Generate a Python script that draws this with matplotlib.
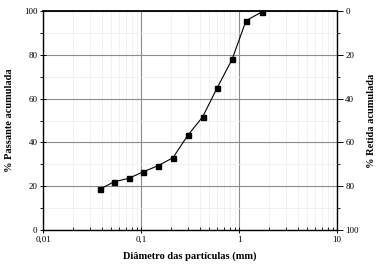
import matplotlib
matplotlib.use("Agg")
import matplotlib.pyplot as plt
from matplotlib.ticker import FixedLocator, LogLocator, NullFormatter

diam = [0.038, 0.053, 0.075, 0.106, 0.15, 0.212, 0.30, 0.425, 0.60, 0.85, 1.18, 1.70]
passante = [18.6, 22.0, 23.6, 26.6, 29.4, 33.0, 43.2, 51.6, 65.0, 77.9, 95.6, 99.5]
xticks = [0.01, 0.1, 1, 10]
xticklabels = ["0,01", "0,1", "1", "10"]
yticks = [0, 20, 40, 60, 80, 100]

plt.rcParams['font.family'] = ['Liberation Serif', 'DejaVu Serif']

fig = plt.figure(figsize=(3.8, 2.72), dpi=100)
ax = fig.add_axes([43/380, 42/272, 294/380, 219/272])

ax.set_xscale('log')
ax.set_xlim(0.01, 10)
ax.set_ylim(0, 100)

ax.plot(diam, passante, color='black', lw=0.8, marker='s', ms=3.6, mfc='black', mec='black')

ax.xaxis.set_major_locator(FixedLocator(xticks))
ax.set_xticklabels(xticklabels)
ax.xaxis.set_minor_locator(LogLocator(base=10, subs=range(2, 10)))
ax.xaxis.set_minor_formatter(NullFormatter())
ax.set_yticks(yticks)
ax.yaxis.set_minor_locator(FixedLocator([10, 30, 50, 70, 90]))

ax.grid(which='major', color='#8c8c8c', lw=0.8)
ax.grid(which='minor', color='#ececec', lw=0.5)
ax.set_axisbelow(True)

ax.tick_params(axis='both', which='major', labelsize=6.5, length=4, width=0.7, direction='inout', pad=2)
ax.tick_params(axis='x', which='minor', length=2, width=0.6, direction='in')
ax.tick_params(axis='y', which='minor', length=2, width=0.6, direction='out')
ax.tick_params(top=False, right=False)

for s in ['top', 'left', 'bottom']:
    ax.spines[s].set_linewidth(1.0)
ax.spines['top'].set_linewidth(1.3)
ax.spines['right'].set_visible(False)

ax.set_xlabel('Diâmetro das partículas (mm)', fontsize=7.5, fontweight='bold', labelpad=6)
ax.set_ylabel('% Passante acumulada', fontsize=7.5, fontweight='bold', labelpad=7)

ax2 = ax.twinx()
ax2.set_ylim(100, 0)
ax2.set_yticks(yticks)
ax2.yaxis.set_minor_locator(FixedLocator([10, 30, 50, 70, 90]))
ax2.tick_params(axis='y', which='major', labelsize=6.5, length=4, width=0.7, direction='out', pad=2)
ax2.tick_params(axis='y', which='minor', length=2, width=0.6, direction='out')
for s in ['top', 'left', 'bottom']:
    ax2.spines[s].set_visible(False)
ax2.spines['right'].set_linewidth(1.0)
ax2.set_ylabel('% Retida acumulada', fontsize=7.5, fontweight='bold', labelpad=6)

fig.savefig('out.png', dpi=100)
